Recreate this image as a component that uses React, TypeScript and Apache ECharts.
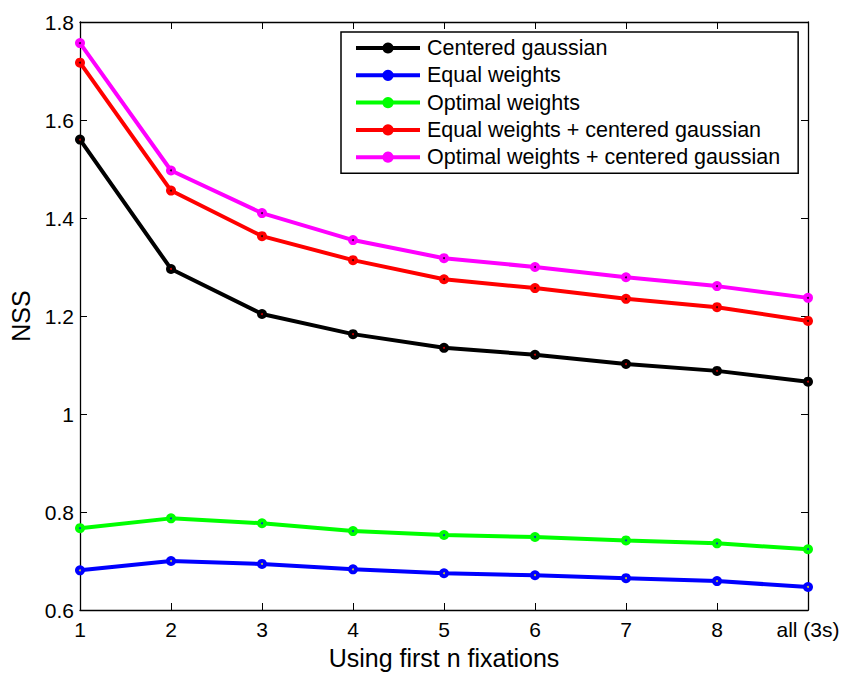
import React, { useEffect, useRef } from "react";
import * as echarts from "echarts";

const categories = ["1", "2", "3", "4", "5", "6", "7", "8", "all (3s)"];
const seriesNames = [
  "Centered gaussian",
  "Equal weights",
  "Optimal weights",
  "Equal weights + centered gaussian",
  "Optimal weights + centered gaussian",
];
const centeredGaussian = [1.56, 1.296, 1.204, 1.163, 1.135, 1.121, 1.102, 1.088, 1.066];
const equalWeights = [0.681, 0.7, 0.694, 0.683, 0.675, 0.671, 0.665, 0.659, 0.647];
const optimalWeights = [0.767, 0.787, 0.777, 0.761, 0.753, 0.749, 0.742, 0.736, 0.724];
const equalPlusGaussian = [1.717, 1.456, 1.363, 1.314, 1.275, 1.257, 1.235, 1.218, 1.19];
const optimalPlusGaussian = [1.757, 1.497, 1.41, 1.355, 1.318, 1.3, 1.279, 1.261, 1.237];
const yTicks = [0.6, 0.8, 1.0, 1.2, 1.4, 1.6, 1.8];

const colors = ["#000000", "#0000ff", "#00ff00", "#ff0000", "#ff00ff"];
const dotColors = ["#ff0000", "#ffff00", "#0000ff", "#000000", "#000000"];

export default function App() {
  const ref = useRef<HTMLDivElement>(null);
  useEffect(() => {
    if (!ref.current) return;
    const chart = echarts.init(ref.current, null, { renderer: "svg" });
    const data = [centeredGaussian, equalWeights, optimalWeights, equalPlusGaussian, optimalPlusGaussian];
    const font = "Liberation Sans, Arial, Helvetica, sans-serif";
    const lineSeries = data.map((d, i) => ({
      name: seriesNames[i],
      type: "line",
      data: d,
      symbol: "circle",
      symbolSize: 10,
      showAllSymbol: true,
      itemStyle: { color: colors[i] },
      lineStyle: { color: colors[i], width: 4 },
      z: 2 + i,
    }));
    const dotSeries = data.map((d, i) => ({
      name: seriesNames[i] + " dot",
      type: "scatter",
      data: d,
      symbol: "circle",
      symbolSize: 2,
      itemStyle: { color: dotColors[i] },
      silent: true,
      z: 10,
    }));
    const axisLine = { show: true, lineStyle: { color: "#000", width: 1.3 } };
    const axisTick = { show: true, inside: true, length: 7, lineStyle: { color: "#000", width: 1 } };
    chart.setOption({
      animation: false,
      backgroundColor: "#ffffff",
      textStyle: { fontFamily: font },
      grid: { left: 80, right: 38, top: 22, bottom: 63, containLabel: false },
      legend: {
        data: seriesNames,
        orient: "vertical",
        left: 341,
        top: 32,
        padding: [5, 18, 5, 13],
        borderColor: "#000",
        borderWidth: 1.5,
        backgroundColor: "#fff",
        itemWidth: 64,
        itemHeight: 14,
        itemGap: 5.3,
        lineStyle: { width: 4 },
        textStyle: { fontSize: 21.5, color: "#000", fontFamily: font, padding: [0, 0, 0, 2] },
        selectedMode: false,
      },
      xAxis: [
        {
          type: "category",
          data: categories,
          boundaryGap: false,
          name: "Using first n fixations",
          nameLocation: "middle",
          nameGap: 35,
          nameTextStyle: { fontSize: 25, color: "#000", fontFamily: font },
          axisLine,
          axisTick: { ...axisTick, alignWithLabel: true },
          axisLabel: { fontSize: 21, color: "#000", margin: 9, fontFamily: font },
          splitLine: { show: false },
        },
        {
          type: "category",
          data: categories,
          boundaryGap: false,
          position: "top",
          axisLine,
          axisTick,
          axisLabel: { show: false },
          splitLine: { show: false },
        },
      ],
      yAxis: [
        {
          type: "value",
          min: yTicks[0],
          max: yTicks[yTicks.length - 1],
          interval: 0.2,
          name: "NSS",
          nameLocation: "middle",
          nameGap: 47,
          nameTextStyle: { fontSize: 25, color: "#000", fontFamily: font },
          axisLine,
          axisTick,
          axisLabel: {
            fontSize: 21,
            color: "#000",
            margin: 6,
            fontFamily: font,
            formatter: (v: number) => String(Math.round(v * 10) / 10),
          },
          splitLine: { show: false },
        },
        {
          type: "value",
          min: yTicks[0],
          max: yTicks[yTicks.length - 1],
          interval: 0.2,
          position: "right",
          axisLine,
          axisTick,
          axisLabel: { show: false },
          splitLine: { show: false },
        },
      ],
      series: [...lineSeries, ...dotSeries],
    });
    return () => chart.dispose();
  }, []);
  return <div ref={ref} style={{ width: 846, height: 675, position: "absolute", left: 0, top: 0 }} />;
}
